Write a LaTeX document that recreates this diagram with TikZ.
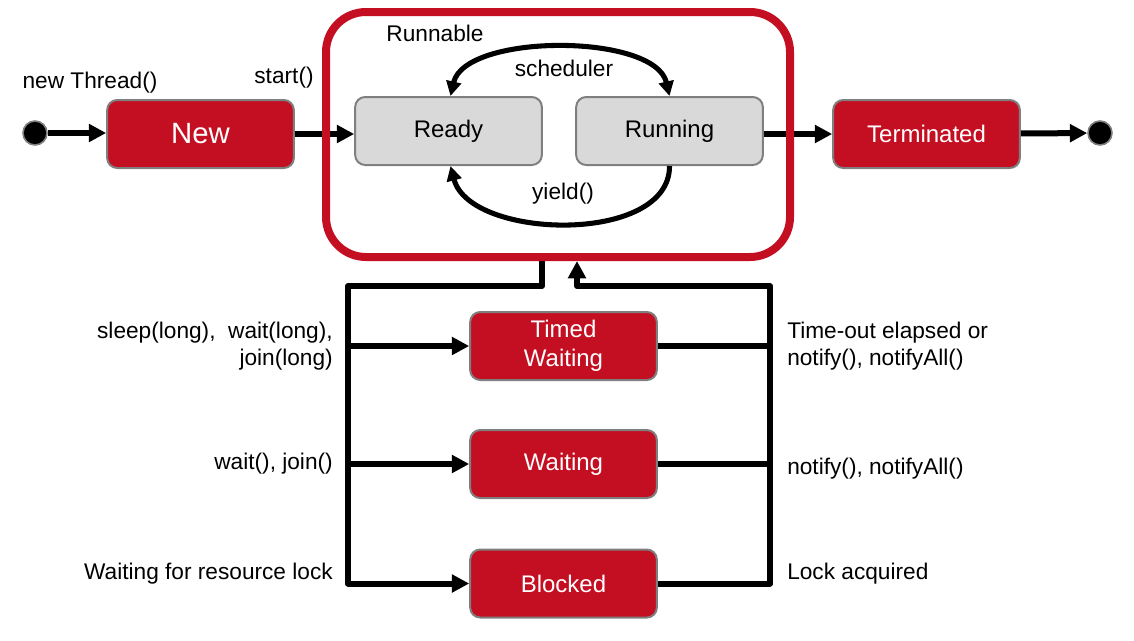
\documentclass[tikz,border=0pt]{standalone}
\usepackage{fontspec}
\setmainfont{Liberation Sans}
\usetikzlibrary{arrows.meta}
\definecolor{jred}{HTML}{C40F22}
\definecolor{jgray}{HTML}{D9D9D9}
\definecolor{jborder}{HTML}{7F7F7F}
\begin{document}
\begin{tikzpicture}[x=0.75pt,y=-0.75pt,
  redbox/.style={draw=jborder,line width=1.5pt,fill=jred,rounded corners=7.5pt,
    minimum width=140pt,minimum height=51pt,text=white,font=\fontsize{18}{20}\selectfont,align=center,inner sep=0pt},
  graybox/.style={draw=jborder,line width=1.5pt,fill=jgray,rounded corners=7.5pt,
    minimum width=140pt,minimum height=51pt,text=black,font=\fontsize{18}{20}\selectfont,inner sep=0pt},
  dot/.style={circle,fill=black,draw=jborder,line width=1.2pt,minimum size=18pt,inner sep=0pt},
  conn/.style={line width=4.5pt,line join=round,draw=black},
  tip/.style={-{Triangle[length=13pt,width=13pt]}},
  lbl/.style={font=\fontsize{17}{20.5}\selectfont,inner sep=0pt,text=black},
  arcl/.style={line width=3.8pt,draw=black}
]
\useasboundingbox (0,0) rectangle (1134,640);

% nodes
\node[dot] (start) at (35,133) {};
\node[dot] (end) at (1100,133) {};
\node[redbox,font=\fontsize{22}{24}\selectfont] (new) at (200.5,134) {New};
\node[graybox] (ready) at (448.5,131) {Ready};
\node[graybox] (running) at (669.5,131) {Running};
\node[redbox] (term) at (926.5,134) {Terminated};
\node[redbox,font=\fontsize{18}{22}\selectfont] (tw) at (563.5,346) {Timed\\Waiting};
\node[redbox] (wait) at (563.5,464) {Waiting};
\node[redbox] (blocked) at (563.5,583.5) {Blocked};

% coordinates for the loop-back connectors
\coordinate (outL) at (542,258);
\coordinate (inR) at (577,261);
\coordinate (lt) at (542,286);
\coordinate (ltl) at (348,286);
\coordinate (lb) at (348,583.5);
\coordinate (lw) at (348,464);
\coordinate (ltw) at (348,346);
\coordinate (rt) at (770,286);
\coordinate (rtl) at (577,286);
\coordinate (rb) at (770,583.5);
\coordinate (rw) at (770,464);
\coordinate (rtw) at (770,346);

% top row connectors
\draw[conn,tip] (start) -- (start -| new.west);
\draw[conn,tip] (new.east) -- (new.east -| ready.west);
\draw[conn,tip] (running.east |- term) -- (term.west);
\draw[conn,tip] (term) -- (end);

% bottom connectors
\draw[conn,tip] (outL) -- (lt) -- (ltl) -- (lb) -- (blocked.west);
\draw[conn,tip] (ltw) -- (tw.west);
\draw[conn,tip] (lw) -- (wait.west);
\draw[conn,tip] (blocked.east) -- (rb) -- (rt) -- (rtl) -- (inR);
\draw[conn] (tw.east) -- (rtw);
\draw[conn] (wait.east) -- (rw);

% Runnable container
\node[draw=jred,line width=6pt,rounded corners=30pt,minimum width=348pt,minimum height=183.75pt,inner sep=0pt] (runnable) at (558,134.5) {};

% scheduler and yield arcs
\draw[arcl,{Triangle[length=11pt,width=11pt]}-{Triangle[length=11pt,width=11pt]}] ([xshift=1.5pt]ready.north) .. controls (465,33) and (655,33) .. (running.north);
\draw[arcl,-{Triangle[length=11pt,width=11pt]}] (running.south) .. controls (670,245) and (470,240) .. ([xshift=1.5pt]ready.south);

% labels
\node[lbl] (lnew) at (90,83) {new Thread()};
\node[lbl] (lstart) at (284,78) {start()};
\node[lbl] (lrun) at (435,33) {Runnable};
\node[lbl] (lsched) at (564,68) {scheduler};
\node[lbl] (lyield) at (563,194) {yield()};
\node[lbl,anchor=east,align=right] (l1) at (333,346) {sleep(long),\ \ wait(long),\\join(long)};
\node[lbl,anchor=east] (l2) at (333,464) {wait(), join()};
\node[lbl,anchor=east] (l3) at (333,574) {Waiting for resource lock};
\node[lbl,anchor=west,align=left] (r1) at (787,346) {Time-out elapsed or\\notify(), notifyAll()};
\node[lbl,anchor=west] (r2) at (787,469) {notify(), notifyAll()};
\node[lbl,anchor=west] (r3) at (787,574) {Lock acquired};
\end{tikzpicture}
\end{document}
